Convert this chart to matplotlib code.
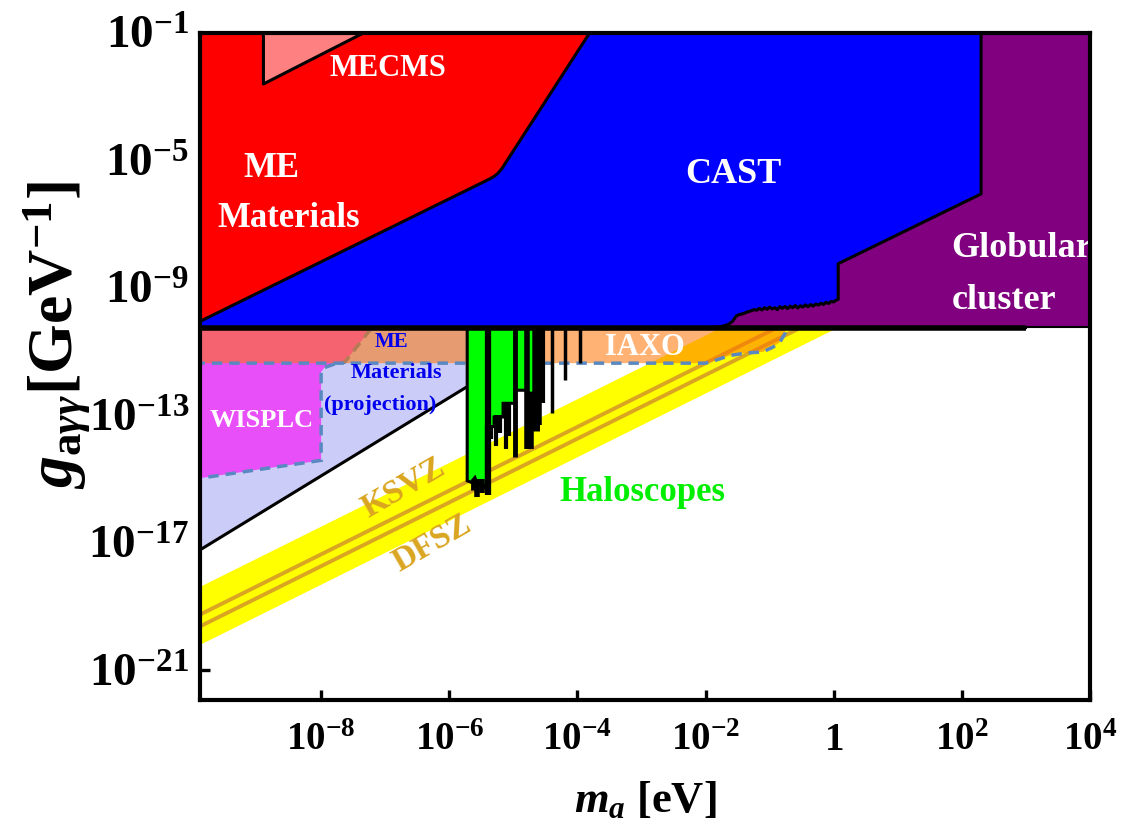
import numpy as np
import matplotlib
matplotlib.use("Agg")
import matplotlib.pyplot as plt
from matplotlib.ticker import FixedLocator, FixedFormatter, NullLocator

plt.rcParams['font.family'] = ['Liberation Serif', 'DejaVu Serif']
plt.rcParams['font.weight'] = 'bold'
plt.rcParams['mathtext.fontset'] = 'custom'
plt.rcParams['mathtext.rm'] = 'Liberation Serif:bold'
plt.rcParams['mathtext.it'] = 'Liberation Serif:italic:bold'
plt.rcParams['mathtext.bf'] = 'Liberation Serif:bold'

# ---------------- data (log10 of m_a [eV] and g [GeV^-1]) ----------------
XMIN, XMAX = -9.89, 4.0
YMIN, YMAX = -21.93, -1.0
G_SPLIT = -10.25          # CAST / globular-cluster horizontal limit

# ME Materials (existing)
me_logm = [XMIN, -9.86, -5.37, -5.30, -5.24, -5.18, -3.81]
me_logg = [-10.05, -10.02, -5.58, -5.50, -5.40, -5.26, -1.0]

# MECMS triangle
mecms_logm = [-8.90, -8.90, -7.34]
mecms_logg = [-1.0, -2.60, -1.0]

# CAST lower / right boundary
cast_logm = [XMIN, -1.88, -1.75, -1.65, -1.58, -1.52, -1.48, -1.44, -1.40, -1.36,
             -1.32, -1.28, -1.24, -1.20, -1.16, -1.12, -1.08, -1.04, -1.00, -0.96,
             -0.92, -0.88, -0.84, -0.80, -0.76, -0.72, -0.68, -0.64, -0.60, -0.56,
             -0.52, -0.48, -0.44, -0.40, -0.36, -0.32, -0.28, -0.24, -0.20, -0.16,
             -0.12, -0.08, -0.04, 0.00, 0.04, 0.07, 0.07, 2.30, 2.30]
cast_logg = [G_SPLIT, G_SPLIT, -10.21, -10.15, -10.05, -9.88, -9.84, -9.82, -9.80, -9.76,
             -9.74, -9.71, -9.68, -9.70, -9.64, -9.69, -9.62, -9.67, -9.60, -9.66,
             -9.62, -9.68, -9.59, -9.64, -9.58, -9.65, -9.57, -9.62, -9.55, -9.63,
             -9.56, -9.60, -9.53, -9.59, -9.52, -9.57, -9.50, -9.54, -9.48, -9.52,
             -9.45, -9.49, -9.42, -9.44, -9.38, -9.36, -8.24, -6.05, -1.0]

# Globular cluster
gc_logm = [-2.0, 3.0, 3.0, XMAX, XMAX, -2.0]
gc_logg = [G_SPLIT, G_SPLIT, -10.21, -10.21, -1.0, -1.0]

# ME Materials (projection)
mep_logm = [XMIN, -5.73, -5.73, XMIN]
mep_logg = [G_SPLIT, G_SPLIT, -12.11, -17.22]

# WISPLC
wis_logm = [XMIN, -7.21, -7.63, -7.78, -7.95, -8.00, -8.00, XMIN]
wis_logg = [G_SPLIT, G_SPLIT, -11.33, -11.38, -11.50, -11.64, -14.41, -14.97]

# IAXO
iaxo_logm = [XMIN, -0.75, -0.76, -0.84, -0.95, -1.11, -1.36, -1.62, -1.89, -2.00, XMIN]
iaxo_logg = [G_SPLIT, G_SPLIT, -10.43, -10.70, -10.86, -11.01, -11.04, -11.12, -11.30, -11.36, -11.36]

# Haloscopes (green envelope)
halo_logm = [-5.72, -5.72, -5.66, -5.60, -5.55, -5.50, -5.45, -5.42, -5.42, -5.30, -5.30,
             -5.16, -5.16, -4.97, -4.97, -4.78, -4.78, -4.68, -4.68]
halo_logg = [G_SPLIT, -15.05, -15.10, -14.95, -15.20, -15.10, -15.25, -15.20, -13.35, -13.35, -13.05,
             -13.05, -12.62, -12.62, -12.21, -12.21, -12.30, -12.30, G_SPLIT]
# individual haloscope exclusions (black): mass, top, bottom, line width
spike_logm = [-5.40, -5.63, -5.56, -5.49, -5.35, -5.27, -5.21, -5.12, -5.06, -4.975,
              -4.78, -4.72, -4.65, -4.60, -4.53, -4.40, -4.20, -3.96]
spike_top = [G_SPLIT, -15.0, -15.0, -15.0, -13.3, -13.0, -13.0, -12.6, -12.6, G_SPLIT,
             G_SPLIT, -12.3, G_SPLIT, G_SPLIT, G_SPLIT, G_SPLIT, G_SPLIT, G_SPLIT]
spike_bot = [-15.50, -15.35, -15.55, -15.45, -13.75, -13.95, -13.55, -14.05, -13.65, -14.30,
             -14.05, -14.05, -13.50, -13.30, -12.60, -12.93, -11.90, -11.37]
spike_lw = [4.5, 3.5, 4.0, 4.0, 3.0, 3.0, 3.0, 3.0, 3.0, 3.5,
            4.0, 4.0, 5.0, 4.0, 3.0, 2.5, 2.5, 2.5]

# QCD axion band: log10(g) = log10(m) + offset
band_lo, band_hi = -10.29, -8.47
ksvz_off, dfsz_off = -9.36, -9.73

xticks_log = [-8, -6, -4, -2, 0, 2, 4]
xtick_labels = [r'$10^{-8}$', r'$10^{-6}$', r'$10^{-4}$', r'$10^{-2}$', r'$1$', r'$10^{2}$', r'$10^{4}$']
yticks_log = [-21, -17, -13, -9, -5, -1]
ytick_labels = [r'$10^{-21}$', r'$10^{-17}$', r'$10^{-13}$', r'$10^{-9}$', r'$10^{-5}$', r'$10^{-1}$']


def P(a):
    return 10.0 ** np.asarray(a, dtype=float)


fig = plt.figure(figsize=(11.33, 8.34), dpi=100)
ax = fig.add_axes([200 / 1133, 1 - 700 / 834, 890 / 1133, 667 / 834])
ax.set_xscale('log')
ax.set_yscale('log')
ax.set_xlim(P(XMIN), P(XMAX))
ax.set_ylim(P(YMIN), P(YMAX))

BL = 'black'
STEEL = '#5A88C0'

# QCD band
mb = P([XMIN, XMAX])
ax.fill_between(mb, mb * P(band_lo), mb * P(band_hi), color='#FFFF00', lw=0, zorder=1)
ax.plot(mb, mb * P(ksvz_off), color='#DAA520', lw=2.8, zorder=1.2)
ax.plot(mb, mb * P(dfsz_off), color='#DAA520', lw=2.8, zorder=1.2)

# ME projection
ax.fill(P(mep_logm), P(mep_logg), facecolor='#CCCCF8', edgecolor='none', zorder=2)
ax.plot(P([XMIN, -5.73]), P([-17.22, -12.11]), color=BL, lw=2.2, zorder=2.1)

# WISPLC
ax.fill(P(wis_logm), P(wis_logg), facecolor='#E94FF8', edgecolor=STEEL, lw=2.5,
        linestyle=(0, (3, 2)), zorder=2.5)

# IAXO
ax.fill(P(iaxo_logm), P(iaxo_logg), facecolor=(1.0, 0.45, 0.0, 0.55), edgecolor=STEEL,
        lw=2.5, linestyle=(0, (3, 2)), zorder=3)

# Haloscopes
ax.fill(P(halo_logm), P(halo_logg), facecolor='#00FF00', edgecolor=BL, lw=2.2,
        joinstyle='miter', zorder=4)
for xm, yt, yb, lw in zip(spike_logm, spike_top, spike_bot, spike_lw):
    ax.plot(P([xm, xm]), P([yt, yb]), color=BL, lw=lw, solid_capstyle='butt', zorder=4.2)

# Globular cluster
ax.fill(P(gc_logm), P(gc_logg), facecolor='#800080', edgecolor='none', zorder=5)
ax.plot(P([3.0, 3.0, XMAX]), P([G_SPLIT, -10.21, -10.21]), color=BL, lw=1.5, zorder=5.1)

# CAST
ax.fill(P(cast_logm + [XMIN]), P(cast_logg + [-1.0]), facecolor='#0000FF', edgecolor='none', zorder=6)
ax.plot(P(cast_logm[1:]), P(cast_logg[1:]), color=BL, lw=2.2, zorder=6.1)

# ME Materials
ax.fill(P(me_logm + [XMIN]), P(me_logg + [-1.0]), facecolor='#FF0000', edgecolor='none', zorder=7)
ax.plot(P(me_logm), P(me_logg), color=BL, lw=2.2, zorder=7.1)

# MECMS
ax.fill(P(mecms_logm), P(mecms_logg), facecolor='#FF8080', edgecolor='none', zorder=8)
ax.plot(P(mecms_logm), P(mecms_logg), color=BL, lw=2.2, zorder=8.1)

# thick horizontal limit line
ax.plot(P([XMIN, 3.0]), P([G_SPLIT, G_SPLIT]), color=BL, lw=4.0, solid_capstyle='butt', zorder=9)

# ---------------- labels ----------------
def T(xl, yl, s, size, color='white', **kw):
    ax.text(P(xl), P(yl), s, fontsize=size, color=color, fontweight='bold',
            ha='center', va='center', zorder=12, **kw)

T(-6.96, -2.12, 'MECMS', 22)
T(-8.78, -5.25, 'ME', 25)
T(-8.50, -6.82, 'Materials', 25)
T(-1.56, -5.44, 'CAST', 26)
ax.text(P(1.84), P(-7.76), 'Globular', fontsize=26, color='white', fontweight='bold',
        ha='left', va='center', zorder=12)
ax.text(P(1.84), P(-9.39), 'cluster', fontsize=26, color='white', fontweight='bold',
        ha='left', va='center', zorder=12)
T(-2.95, -10.87, 'IAXO', 22)
T(-6.90, -10.71, 'ME', 15, color='#0000EE')
T(-6.82, -11.68, 'Materials', 16, color='#0000EE')
T(-7.08, -12.68, '(projection)', 16, color='#0000EE')
T(-8.92, -13.16, 'WISPLC', 19)
T(-6.72, -15.25, 'KSVZ', 24, color='#DAA520', rotation=30, rotation_mode='anchor')
T(-6.26, -17.00, 'DFSZ', 24, color='#DAA520', rotation=30, rotation_mode='anchor')
T(-2.98, -15.41, 'Haloscopes', 25, color='#00EE00')

# ---------------- axes styling ----------------
ax.xaxis.set_major_locator(FixedLocator(P(xticks_log)))
ax.xaxis.set_major_formatter(FixedFormatter(xtick_labels))
ax.yaxis.set_major_locator(FixedLocator(P(yticks_log)))
ax.yaxis.set_major_formatter(FixedFormatter(ytick_labels))
ax.xaxis.set_minor_locator(NullLocator())
ax.yaxis.set_minor_locator(NullLocator())
ax.tick_params(axis='both', direction='in', length=7, width=2.4, top=False, right=False)
ax.tick_params(axis='x', labelsize=28, pad=16)
ax.tick_params(axis='y', labelsize=34, pad=8)
for sp in ax.spines.values():
    sp.set_linewidth(3.0)
    sp.set_zorder(20)

fig.text(645 / 1133, 1 - 800 / 834, r'$m_a$ [eV]', fontsize=32, fontweight='bold',
         ha='center', va='center')
fig.text(57 / 1133, 1 - 335 / 834, r'$g_{\mathrm{a}\gamma\gamma}$[GeV$^{-1}$]', fontsize=46,
         fontweight='bold', rotation=90, ha='center', va='center')

fig.savefig('out.png', dpi=100)
